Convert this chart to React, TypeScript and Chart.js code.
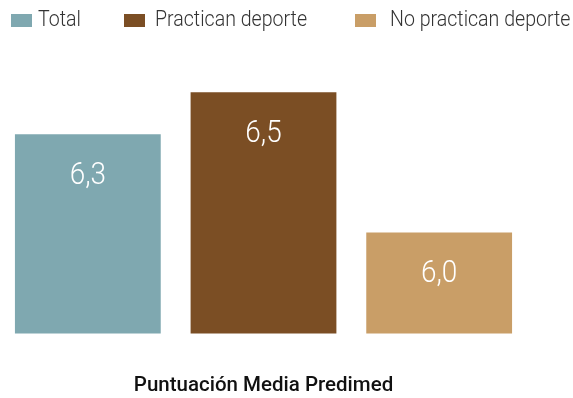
import React, { useEffect, useRef } from 'react';
import { Chart, registerables } from 'chart.js';

Chart.register(...registerables);

const categories: string[] = ['Total', 'Practican deporte', 'No practican deporte'];
const values: number[] = [6.31, 6.46, 5.96];
const colors: string[] = ['#7fa8b0', '#7b4e24', '#c99e67'];
const axisTitle = 'Puntuación Media Predimed';
const yMin = 5.6;
const yMax = 6.6;

const formatValue = (v: number) => v.toFixed(1).replace('.', ',');

const barLabelPlugin = {
  id: 'barLabels',
  afterDatasetsDraw(chart: any) {
    const ctx = chart.ctx;
    const meta = chart.getDatasetMeta(0);
    meta.data.forEach((bar: any, i: number) => {
      ctx.save();
      ctx.translate(bar.x, bar.y + 50);
      ctx.scale(0.9, 1);
      ctx.font = '300 31px Roboto';
      ctx.fillStyle = '#ffffff';
      ctx.textAlign = 'center';
      ctx.textBaseline = 'alphabetic';
      ctx.fillText(formatValue(values[i]), 0, 0);
      ctx.restore();
    });
  },
};

const legendPos = [
  { box: 11, text: 38 },
  { box: 124, text: 155 },
  { box: 355, text: 390 },
];

export default function App() {
  const ref = useRef<HTMLCanvasElement | null>(null);
  useEffect(() => {
    if (!ref.current) return;
    const chart = new Chart(ref.current, {
      type: 'bar',
      data: {
        labels: categories,
        datasets: [
          {
            data: values,
            backgroundColor: colors,
            borderWidth: 0,
            barPercentage: 0.83,
            categoryPercentage: 1,
          },
        ],
      },
      options: {
        animation: false,
        responsive: true,
        maintainAspectRatio: false,
        layout: { padding: { top: 53, right: 46, left: 0, bottom: 0 } },
        plugins: {
          legend: { display: false },
          tooltip: { enabled: false },
          title: { display: false },
        },
        scales: {
          x: {
            grid: { display: false, drawTicks: false },
            border: { display: false },
            ticks: { display: false },
            title: {
              display: true,
              text: axisTitle,
              color: '#111111',
              font: { family: 'Roboto', weight: '500', size: 20.5 },
              padding: { top: 40, bottom: 0 },
            },
          },
          y: { display: false, min: yMin, max: yMax },
        },
      },
      plugins: [barLabelPlugin],
    });
    return () => chart.destroy();
  }, []);

  return (
    <div style={{ position: 'absolute', left: 0, top: 0, width: 573, height: 398, background: '#fff' }}>
      <canvas ref={ref} />
      {categories.map((c, i) => (
        <React.Fragment key={c}>
          <div
            style={{
              position: 'absolute',
              left: legendPos[i].box,
              top: 14,
              width: 21,
              height: 13,
              background: colors[i],
            }}
          />
          <div
            style={{
              position: 'absolute',
              left: legendPos[i].text,
              top: 5,
              fontFamily: 'Roboto',
              fontWeight: 300,
              fontSize: 22,
              lineHeight: '28px',
              color: '#333333',
              whiteSpace: 'nowrap',
              transform: 'scaleX(0.89)',
              transformOrigin: 'left center',
            }}
          >
            {c}
          </div>
        </React.Fragment>
      ))}
    </div>
  );
}
